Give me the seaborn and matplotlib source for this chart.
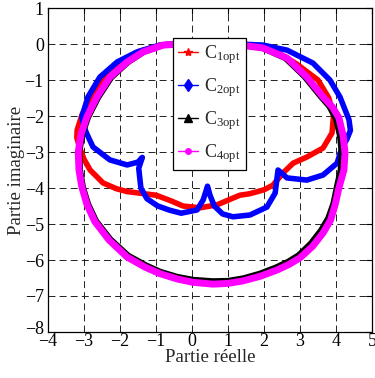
import matplotlib
matplotlib.use("Agg")
import matplotlib.pyplot as plt
from matplotlib.lines import Line2D
from matplotlib.transforms import ScaledTranslation
import seaborn as sns

c1_re = [1.3, 0.5, -0.3, -0.85, -1.45, -1.95, -2.45, -2.8, -3.05, -3.19, -3.2, -3.13,
         -3.0, -2.83, -2.47, -2.1, -1.8, -1.4, -1.0, -0.6, -0.25, 0.22, 0.69, 1.14,
         1.33, 1.6, 2.0, 2.25, 2.53, 2.81, 3.19, 3.64, 3.89, 3.93, 3.8, 3.5, 2.9, 2.45,
         1.95, 1.3]
c1_im = [-0.01, 0.01, 0.01, -0.02, -0.2, -0.48, -0.9, -1.45, -1.95, -2.39, -2.6, -2.85,
         -3.2, -3.5, -3.86, -4.02, -4.1, -4.15, -4.2, -4.35, -4.5, -4.55, -4.47, -4.28,
         -4.2, -4.16, -4.05, -3.92, -3.58, -3.31, -3.14, -2.89, -2.47, -2.0, -1.5, -1.0,
         -0.55, -0.28, -0.12, -0.01]

c2_re = [1.3, 0.5, -0.3, -0.89, -1.53, -2.08, -2.56, -2.89, -3.06, -3.0, -2.92, -2.75,
         -2.28, -1.8, -1.5, -1.38, -1.48, -1.42, -1.25, -0.95, -0.61, -0.3, 0.14, 0.31,
         0.4, 0.43, 0.5, 0.62, 0.85, 1.14, 1.61, 2.08, 2.31, 2.39, 2.64, 3.19, 3.64,
         4.03, 4.17, 4.3, 4.4, 4.36, 4.11, 3.83, 3.36, 2.64, 1.97, 1.3]
c2_im = [0.0, 0.02, 0.02, -0.03, -0.22, -0.5, -0.92, -1.47, -2.03, -2.3, -2.5, -2.86,
         -3.22, -3.36, -3.28, -3.15, -3.45, -4.0, -4.3, -4.5, -4.62, -4.7, -4.61, -4.33,
         -4.05, -3.95, -4.2, -4.5, -4.72, -4.8, -4.75, -4.53, -4.14, -3.5, -3.72, -3.78,
         -3.64, -3.31, -2.86, -2.65, -2.4, -2.1, -1.47, -1.0, -0.53, -0.17, -0.03, 0.0]

c3_re = [1.3, 0.5, -0.3, -0.8, -1.33, -1.76, -2.22, -2.58, -2.86, -3.02, -3.1, -3.08,
         -3.0, -2.86, -2.64, -2.25, -1.76, -1.27, -0.87, -0.4, 0.03, 0.58, 1.0, 1.42,
         1.88, 2.32, 2.66, 2.95, 3.28, 3.56, 3.76, 3.9, 3.99, 4.1, 4.13, 4.08, 3.97,
         3.79, 3.53, 3.1, 2.58, 1.93, 1.3]
c3_im = [-0.05, -0.03, -0.03, -0.06, -0.25, -0.53, -0.95, -1.5, -2.05, -2.52, -3.0, -3.5,
         -3.97, -4.43, -4.9, -5.4, -5.85, -6.12, -6.3, -6.44, -6.52, -6.56, -6.55, -6.48,
         -6.35, -6.18, -6.02, -5.84, -5.52, -5.16, -4.82, -4.42, -3.98, -3.5, -3.03, -2.55,
         -2.08, -1.75, -1.45, -0.92, -0.42, -0.13, -0.05]

c4_re = [1.3, 0.5, -0.3, -0.8, -1.36, -1.8, -2.28, -2.64, -2.92, -3.08, -3.16, -3.14,
         -3.06, -2.92, -2.7, -2.3, -1.8, -1.3, -0.89, -0.4, 0.03, 0.58, 1.0, 1.42, 1.9,
         2.36, 2.7, 3.0, 3.35, 3.64, 3.85, 3.98, 4.08, 4.22, 4.25, 4.2, 4.08, 3.9, 3.64,
         3.19, 2.64, 1.97, 1.33]
c4_im = [-0.02, -0.01, 0.0, -0.03, -0.22, -0.5, -0.92, -1.47, -2.03, -2.5, -3.0, -3.5,
         -3.97, -4.45, -4.93, -5.45, -5.92, -6.2, -6.38, -6.53, -6.62, -6.67, -6.65, -6.58,
         -6.45, -6.28, -6.12, -5.94, -5.62, -5.25, -4.89, -4.45, -4.0, -3.5, -3.03, -2.55,
         -2.05, -1.75, -1.47, -0.92, -0.39, -0.11, -0.03]

labels = [r"C$_{\mathregular{1opt}}$", r"C$_{\mathregular{2opt}}$",
          r"C$_{\mathregular{3opt}}$", r"C$_{\mathregular{4opt}}$"]
colors = ["#ff0000", "#0000ff", "#000000", "#ff00ff"]
markers = ["*", "d", "^", "."]
widths = [4.0, 4.0, 2.8, 5.0]

sns.set_style("white")
plt.rcParams["font.family"] = ["Liberation Serif", "DejaVu Serif"]
plt.rcParams["mathtext.fontset"] = "custom"
plt.rcParams["mathtext.rm"] = "Liberation Serif"
plt.rcParams["mathtext.it"] = "Liberation Serif:italic"
plt.rcParams["mathtext.default"] = "regular"
plt.rcParams["lines.scale_dashes"] = False

fig = plt.figure(figsize=(3.75, 3.78), dpi=100)
ax = fig.add_axes([0.128, 0.1217, 0.864, 0.8571])

series = [(c1_re, c1_im), (c2_re, c2_im), (c3_re, c3_im), (c4_re, c4_im)]
for (re, im), col, lw in zip(series, colors, widths):
    sns.lineplot(x=re, y=im, sort=False, estimator=None, color=col, lw=lw, ax=ax,
                 solid_joinstyle="round", solid_capstyle="round")

ax.set_xlim(-4, 5)
ax.set_ylim(-8, 1)
ax.set_xticks(range(-4, 6))
ax.set_yticks(range(-8, 2))
ax.grid(True, color="#222222", linestyle=(0, (5, 3)), linewidth=0.7)
ax.tick_params(direction="in", length=4, width=0.8, top=True, right=True,
               labelsize=13, colors="black")
ax.tick_params(axis="x", pad=1)
ax.tick_params(axis="y", pad=3)
for s in ax.spines.values():
    s.set_color("black")
    s.set_linewidth(0.9)
ax.set_xlabel("Partie réelle", fontsize=13.5, labelpad=-1)
ax.set_ylabel("Partie imaginaire", fontsize=13.5, labelpad=0)

# lift the -8 label a little so it clears the -4 label below it
lab = ax.get_yticklabels()[0]
lab.set_transform(lab.get_transform() + ScaledTranslation(0, 3 / 72, fig.dpi_scale_trans))

handles = [Line2D([], [], color=c, marker=m, lw=1.0, markersize=6 if m != "." else 8)
           for c, m in zip(colors, markers)]
leg = ax.legend(handles, labels, loc="upper left", bbox_to_anchor=(0.386, 0.907),
                fontsize=13, handlelength=1.1, handletextpad=0.3, labelspacing=0.55,
                borderpad=0.3, borderaxespad=0, fancybox=False, framealpha=1,
                edgecolor="black")
leg.get_frame().set_linewidth(0.9)

fig.savefig("out.png", dpi=100)
